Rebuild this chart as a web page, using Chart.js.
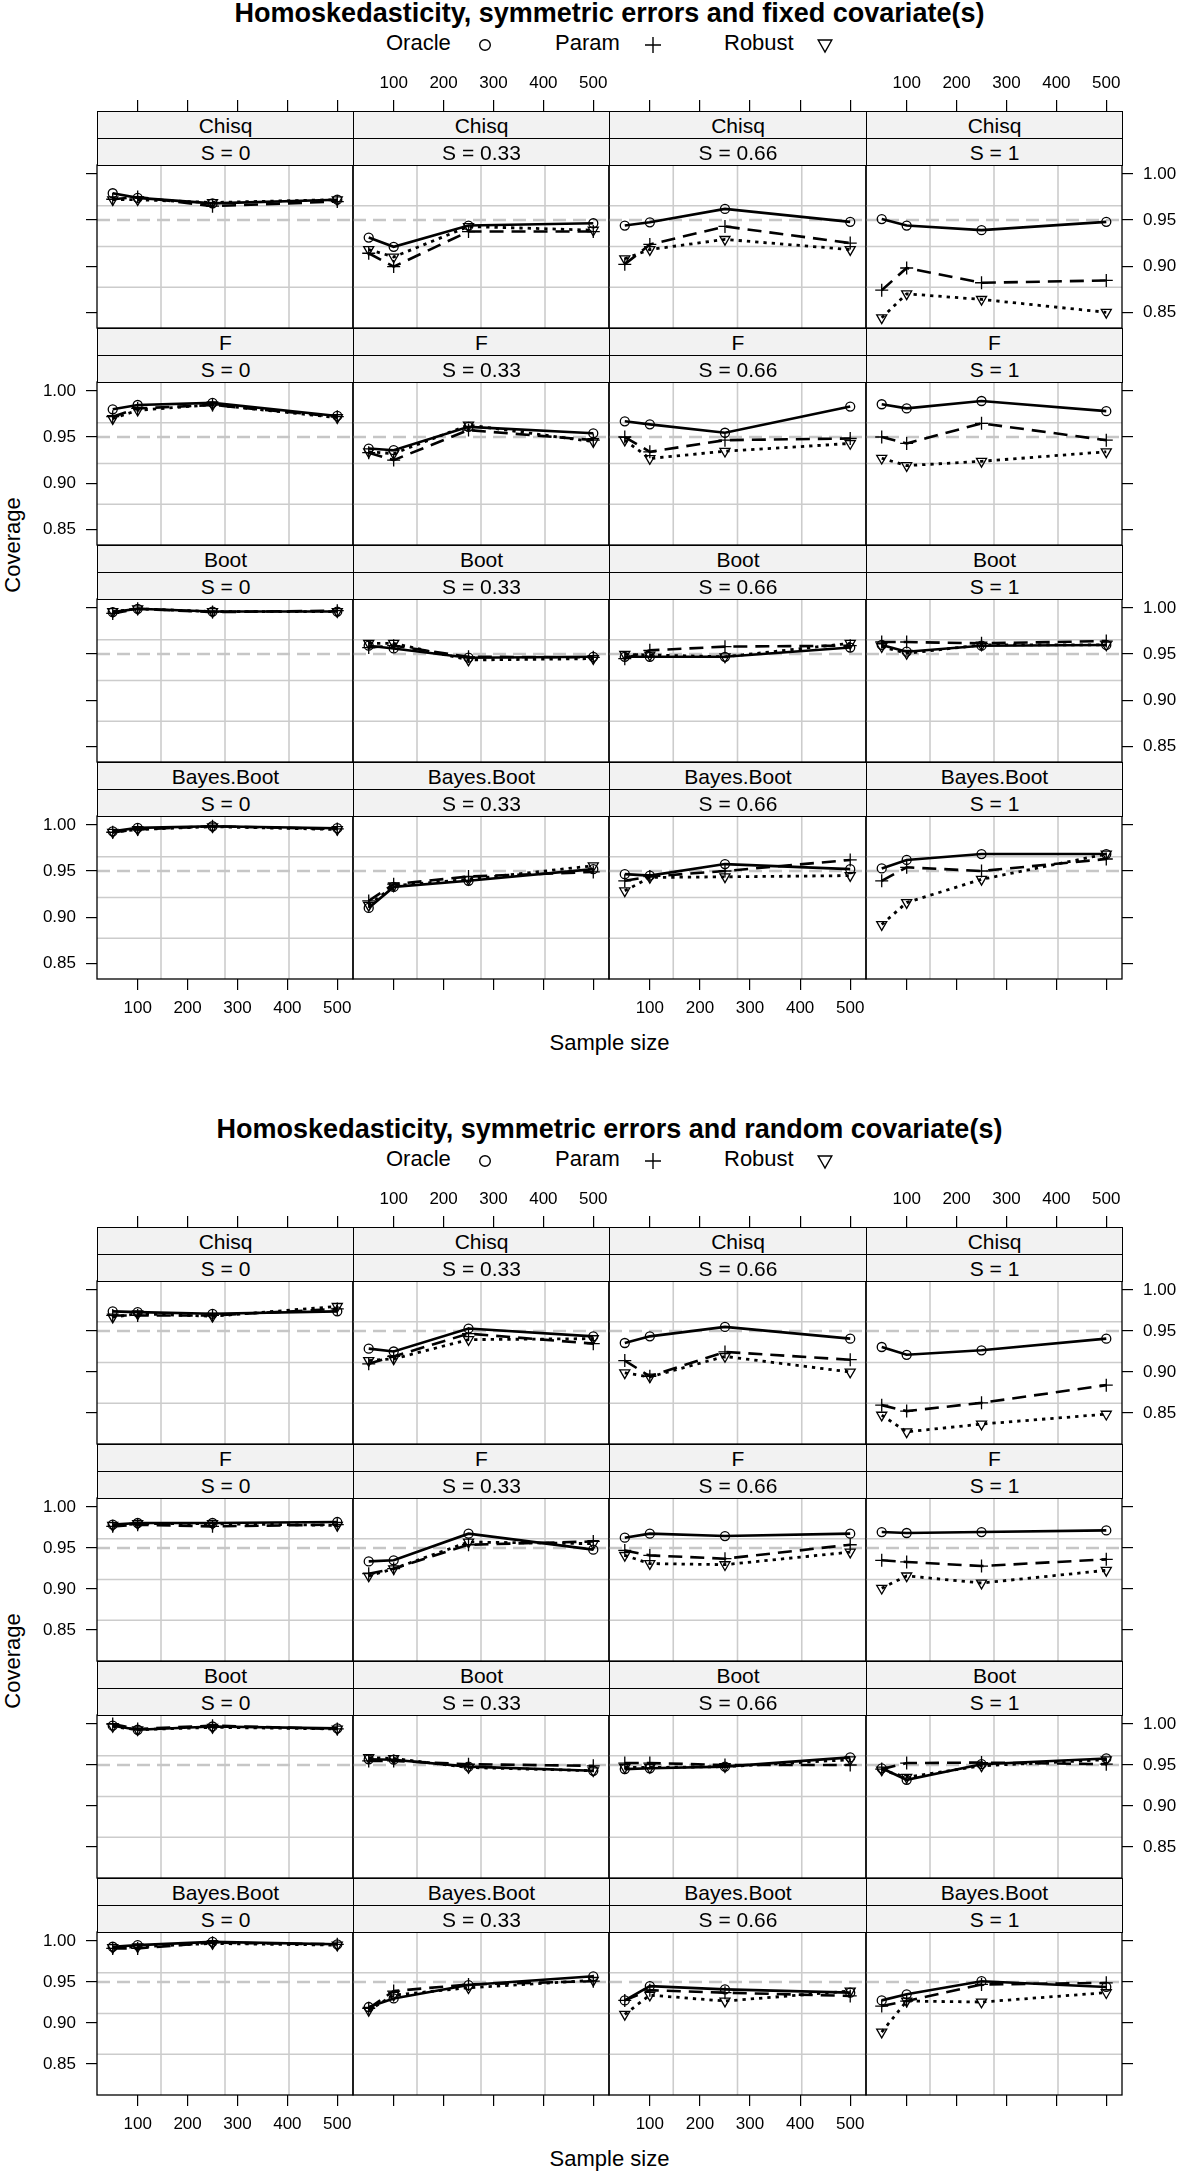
<!DOCTYPE html>
<html><head><meta charset="utf-8">
<script src="https://cdn.jsdelivr.net/npm/chart.js@4.4.0/dist/chart.umd.min.js"></script>
<style>
html,body{margin:0;padding:0;background:#fff;}
body{width:1181px;height:2171px;position:relative;overflow:hidden;font-family:"Liberation Sans",Arial,Helvetica,sans-serif;color:#000;}
canvas{position:absolute;z-index:1;}
.strip{position:absolute;background:#f2f2f2;border:1px solid #000;box-sizing:border-box;text-align:center;font-size:21px;line-height:27px;z-index:2;white-space:nowrap;overflow:hidden;}
.title{position:absolute;left:0;width:1219px;text-align:center;font-weight:bold;font-size:27px;line-height:30px;white-space:nowrap;}
.lab{position:absolute;font-size:22px;line-height:26px;white-space:nowrap;}
.sym{position:absolute;}
.xlab{position:absolute;left:0;width:1219px;text-align:center;font-size:22px;line-height:26px;}
.ylab{position:absolute;font-size:22px;line-height:26px;width:200px;text-align:center;transform:rotate(-90deg);}
</style>
</head><body>
<script>
// ---------------- data ----------------
const sampleSizes = [50, 100, 250, 500];
const methods = ['Chisq', 'F', 'Boot', 'Bayes.Boot'];
const skewLabels = ['S = 0', 'S = 0.33', 'S = 0.66', 'S = 1'];
const seriesNames = ['Oracle', 'Param', 'Robust'];
const xTickValues = [100, 200, 300, 400, 500];
const yTickValues = [0.85, 0.90, 0.95, 1.00];
const refLine = 0.95;
const figureTitles = ['Homoskedasticity, symmetric errors and fixed covariate(s)',
                      'Homoskedasticity, symmetric errors and random covariate(s)'];
const xAxisTitle = 'Sample size';
const yAxisTitle = 'Coverage';

// fixed covariates: each array = [S=0, S=0.33, S=0.66, S=1], values at n = 50,100,250,500
const fixedChisqOracle = [[0.979,0.974,0.968,0.972],[0.931,0.921,0.944,0.9465],[0.944,0.9475,0.962,0.948],[0.951,0.944,0.939,0.948]];
const fixedChisqParam  = [[0.9725,0.975,0.965,0.970],[0.914,0.8995,0.9375,0.9375],[0.902,0.9235,0.943,0.925],[0.874,0.898,0.882,0.8845]];
const fixedChisqRobust = [[0.972,0.972,0.969,0.972],[0.918,0.910,0.943,0.939],[0.908,0.918,0.929,0.918],[0.844,0.870,0.864,0.850]];
const fixedFOracle = [[0.980,0.9847,0.987,0.9728],[0.9375,0.9357,0.961,0.954],[0.967,0.9637,0.9546,0.983],[0.9855,0.981,0.989,0.978]];
const fixedFParam  = [[0.972,0.981,0.9847,0.972],[0.933,0.925,0.9575,0.9467],[0.950,0.934,0.9466,0.9484],[0.950,0.943,0.9648,0.9466]];
const fixedFRobust = [[0.970,0.979,0.985,0.971],[0.934,0.932,0.963,0.945],[0.9466,0.9267,0.9346,0.943],[0.927,0.919,0.9237,0.934]];
const fixedBootOracle = [[0.9954,0.999,0.996,0.996],[0.959,0.956,0.946,0.947],[0.947,0.947,0.947,0.957],[0.9598,0.9525,0.959,0.9598]];
const fixedBootParam  = [[0.994,0.999,0.9954,0.997],[0.957,0.959,0.947,0.9464],[0.945,0.954,0.958,0.959],[0.963,0.963,0.9616,0.964]];
const fixedBootRobust = [[0.996,0.999,0.996,0.996],[0.9616,0.9616,0.9435,0.945],[0.9496,0.949,0.947,0.9616],[0.958,0.9507,0.9598,0.9598]];
const fixedBayesOracle = [[0.993,0.9967,0.9985,0.9964],[0.910,0.9328,0.9394,0.952],[0.9466,0.945,0.9575,0.952],[0.9528,0.962,0.9684,0.9684]];
const fixedBayesParam  = [[0.992,0.995,0.9985,0.9956],[0.9176,0.9357,0.944,0.949],[0.9394,0.944,0.950,0.962],[0.9394,0.954,0.950,0.963]];
const fixedBayesRobust = [[0.992,0.995,0.998,0.995],[0.9128,0.934,0.941,0.9557],[0.9285,0.943,0.9437,0.945],[0.892,0.9158,0.941,0.9684]];

// random covariates
const randomChisqOracle = [[0.974,0.973,0.971,0.974],[0.9285,0.925,0.953,0.9435],[0.9354,0.9435,0.955,0.9407],[0.9305,0.921,0.9265,0.9407]];
const randomChisqParam  = [[0.969,0.969,0.969,0.977],[0.910,0.919,0.9468,0.9346],[0.914,0.8948,0.9245,0.915],[0.8596,0.8523,0.8624,0.884]];
const randomChisqRobust = [[0.967,0.971,0.968,0.980],[0.914,0.916,0.9395,0.9407],[0.899,0.894,0.919,0.900],[0.8474,0.827,0.8365,0.8486]];
const randomFOracle = [[0.9785,0.9805,0.9805,0.9817],[0.9337,0.935,0.9675,0.948],[0.9626,0.9675,0.9646,0.9675],[0.9695,0.9683,0.9695,0.9715]];
const randomFParam  = [[0.9764,0.9785,0.9764,0.9785],[0.9187,0.9248,0.954,0.958],[0.947,0.941,0.937,0.954],[0.935,0.933,0.928,0.9362]];
const randomFRobust = [[0.9776,0.9797,0.9797,0.9776],[0.9159,0.9248,0.9573,0.9553],[0.941,0.931,0.9297,0.945],[0.901,0.916,0.9073,0.9228]];
const randomBootOracle = [[0.998,0.993,0.997,0.9947],[0.957,0.9565,0.948,0.943],[0.945,0.946,0.948,0.9593],[0.946,0.932,0.951,0.958]];
const randomBootParam  = [[1.000,0.994,0.998,0.994],[0.955,0.955,0.951,0.949],[0.9524,0.9524,0.950,0.950],[0.945,0.9524,0.953,0.951]];
const randomBootRobust = [[0.997,0.993,0.996,0.994],[0.959,0.958,0.947,0.943],[0.947,0.947,0.948,0.9565],[0.944,0.935,0.949,0.9565]];
const randomBayesOracle = [[0.993,0.995,0.999,0.996],[0.9195,0.930,0.9463,0.957],[0.9276,0.945,0.941,0.937],[0.9276,0.935,0.951,0.944]];
const randomBayesParam  = [[0.991,0.991,0.998,0.996],[0.918,0.939,0.947,0.951],[0.9276,0.940,0.937,0.933],[0.9207,0.9268,0.947,0.949]];
const randomBayesRobust = [[0.992,0.993,0.997,0.995],[0.9155,0.934,0.943,0.952],[0.9106,0.934,0.9268,0.939],[0.889,0.9268,0.9256,0.937]];

const fixedData = [
  [fixedChisqOracle, fixedChisqParam, fixedChisqRobust],
  [fixedFOracle, fixedFParam, fixedFRobust],
  [fixedBootOracle, fixedBootParam, fixedBootRobust],
  [fixedBayesOracle, fixedBayesParam, fixedBayesRobust]];
const randomData = [
  [randomChisqOracle, randomChisqParam, randomChisqRobust],
  [randomFOracle, randomFParam, randomFRobust],
  [randomBootOracle, randomBootParam, randomBootRobust],
  [randomBayesOracle, randomBayesParam, randomBayesRobust]];

// ---------------- layout / style ----------------
const FONT = '"Liberation Sans", Arial, Helvetica, sans-serif';
const colEdges = [97, 353, 609, 866, 1122];
const stripH = 27, panelH = 163, rowPitch = 217;
const figs = [
  {stripTop: 111, data: fixedData, yMin: 0.833, yMax: 1.0096, title: figureTitles[0]},
  {stripTop: 1227, data: randomData, yMin: 0.8122, yMax: 1.011, title: figureTitles[1]}];
const xMin = 18.5, xMax = 531.5;
const ML = 70, MR = 70, MT = 100, MB = 60;
const gridColor = '#cccccc', refColor = '#c6c6c6';
const seriesStyle = [
  {dash: [], pointStyle: 'circle', radius: 4.5, rot: 0, width: 2.6},
  {dash: [14, 8], pointStyle: 'cross', radius: 6.5, rot: 0, width: 2.6},
  {dash: [3.3, 5], pointStyle: 'triangle', radius: 5.8, rot: 180, width: 2.8}];

function el(tag, cls, text, css) {
  const e = document.createElement(tag);
  if (cls) e.className = cls;
  if (text !== undefined) e.textContent = text;
  Object.assign(e.style, css || {});
  document.body.appendChild(e);
  return e;
}
function svgSym(kind, cx, cy) {
  const ns = 'http://www.w3.org/2000/svg';
  const s = document.createElementNS(ns, 'svg');
  s.setAttribute('width', 20); s.setAttribute('height', 20);
  s.setAttribute('class', 'sym');
  s.style.left = (cx - 10) + 'px'; s.style.top = (cy - 10) + 'px';
  let shape;
  if (kind === 'circle') {
    shape = document.createElementNS(ns, 'circle');
    shape.setAttribute('cx', 10); shape.setAttribute('cy', 10); shape.setAttribute('r', 5.3);
  } else if (kind === 'plus') {
    shape = document.createElementNS(ns, 'path');
    shape.setAttribute('d', 'M2 10 H18 M10 2 V18');
  } else {
    shape = document.createElementNS(ns, 'path');
    shape.setAttribute('d', 'M3.2 4 L16.8 4 L10 16 Z');
  }
  shape.setAttribute('fill', 'none'); shape.setAttribute('stroke', '#000'); shape.setAttribute('stroke-width', '1.4');
  s.appendChild(shape);
  document.body.appendChild(s);
}

const panelDecor = {
  id: 'panelDecor',
  beforeDatasetsDraw(chart) {
    const {ctx, chartArea: a} = chart;
    ctx.save();
    ctx.strokeStyle = gridColor; ctx.lineWidth = 1.6;
    ctx.beginPath();
    for (let k = 1; k <= 3; k++) {
      const x = a.left + k * a.width / 4, y = a.top + k * a.height / 4;
      ctx.moveTo(x, a.top); ctx.lineTo(x, a.bottom);
      ctx.moveTo(a.left, y); ctx.lineTo(a.right, y);
    }
    ctx.stroke();
    const yr = chart.scales.y.getPixelForValue(refLine);
    ctx.strokeStyle = refColor; ctx.lineWidth = 2.7; ctx.setLineDash([13, 7]);
    ctx.beginPath(); ctx.moveTo(a.left, yr); ctx.lineTo(a.right, yr); ctx.stroke();
    ctx.restore();
  },
  afterDraw(chart) {
    const {ctx, chartArea: a} = chart;
    ctx.save(); ctx.strokeStyle = '#000'; ctx.lineWidth = 1.3;
    ctx.strokeRect(a.left, a.top, a.width, a.height);
    ctx.restore();
  }
};

function xAxis(pos, ticksOn, labelsOn, tickLen, pad, size) {
  return {
    type: 'linear', position: pos, min: xMin, max: xMax,
    afterBuildTicks: s => { s.ticks = xTickValues.map(v => ({value: v})); },
    afterFit: s => { s.height = size; s.paddingLeft = 0; s.paddingRight = 0; s.paddingTop = 0; s.paddingBottom = 0; },
    grid: {display: true, drawOnChartArea: false, drawTicks: ticksOn, tickLength: tickLen, color: '#000', lineWidth: 1.2},
    border: {display: false},
    ticks: {display: labelsOn, autoSkip: false, maxRotation: 0, minRotation: 0, padding: pad, color: '#000',
            font: {family: FONT, size: 17}, callback: v => String(v)}
  };
}
function yAxis(pos, ticksOn, labelsOn, yMin, yMax, size) {
  return {
    type: 'linear', position: pos, min: yMin, max: yMax,
    afterBuildTicks: s => { s.ticks = yTickValues.map(v => ({value: v})); },
    afterFit: s => { s.width = size; s.paddingLeft = 0; s.paddingRight = 0; s.paddingTop = 0; s.paddingBottom = 0; },
    grid: {display: true, drawOnChartArea: false, drawTicks: ticksOn, tickLength: 11, color: '#000', lineWidth: 1.2},
    border: {display: false},
    ticks: {display: labelsOn, autoSkip: false, padding: 10, color: '#000',
            font: {family: FONT, size: 17}, callback: v => Number(v).toFixed(2)}
  };
}

figs.forEach((fig) => {
  const st = fig.stripTop;
  // title & legend
  el('div', 'title', fig.title, {top: (st - 113) + 'px'});
  const legY = st - 66;
  el('div', 'lab', seriesNames[0], {left: '386px', top: (legY - 15) + 'px'});
  svgSym('circle', 485, legY);
  el('div', 'lab', seriesNames[1], {left: '555px', top: (legY - 15) + 'px'});
  svgSym('plus', 653, legY);
  el('div', 'lab', seriesNames[2], {left: '724px', top: (legY - 15) + 'px'});
  svgSym('tri', 825, legY + 1);
  // axis titles
  el('div', 'xlab', xAxisTitle, {top: (st + 919) + 'px'});
  const midY = st + (4 * rowPitch) / 2;
  el('div', 'ylab', yAxisTitle, {left: (13 - 100) + 'px', top: (midY - 13) + 'px'});

  for (let r = 0; r < 4; r++) {
    for (let c = 0; c < 4; c++) {
      const pl = colEdges[c], pw = colEdges[c + 1] - colEdges[c];
      const pt = st + r * rowPitch + 2 * stripH;
      // strips
      el('div', 'strip', methods[r], {left: pl + 'px', top: (pt - 2 * stripH) + 'px', width: (pw + 1) + 'px', height: (stripH + 1) + 'px'});
      el('div', 'strip', skewLabels[c], {left: pl + 'px', top: (pt - stripH) + 'px', width: (pw + 1) + 'px', height: (stripH + 1) + 'px'});
      // canvas
      const cv = document.createElement('canvas');
      cv.width = pw + ML + MR; cv.height = panelH + MT + MB;
      cv.style.left = (pl - ML) + 'px'; cv.style.top = (pt - MT) + 'px';
      cv.style.width = cv.width + 'px'; cv.style.height = cv.height + 'px';
      document.body.appendChild(cv);
      const datasets = seriesNames.map((name, si) => {
        const ss = seriesStyle[si];
        const vals = fig.data[r][si][c];
        return {
          label: name,
          data: sampleSizes.map((n, i) => ({x: n, y: vals[i]})),
          borderColor: '#000', borderWidth: ss.width, borderDash: ss.dash, borderCapStyle: 'butt',
          pointStyle: ss.pointStyle, pointRadius: ss.radius, pointRotation: ss.rot,
          pointBorderColor: '#000', pointBackgroundColor: 'rgba(0,0,0,0)', pointBorderWidth: 1.3,
          fill: false, tension: 0, xAxisID: 'x', yAxisID: 'y'
        };
      });
      new Chart(cv, {
        type: 'line',
        data: {datasets},
        options: {
          responsive: false, animation: false, devicePixelRatio: 1, events: [],
          layout: {padding: 0, autoPadding: false},
          plugins: {legend: {display: false}, tooltip: {enabled: false}},
          scales: {
            x: xAxis('bottom', r === 3, r === 3 && c % 2 === 0, 11, 8, MB),
            x2: xAxis('top', r === 0, r === 0 && c % 2 === 1, 11 + 2 * stripH, 6, MT),
            y: yAxis('left', c === 0, c === 0 && r % 2 === 1, fig.yMin, fig.yMax, ML),
            y2: yAxis('right', c === 3, c === 3 && r % 2 === 0, fig.yMin, fig.yMax, MR)
          }
        },
        plugins: [panelDecor]
      });
    }
  }
});
</script>
</body></html>
